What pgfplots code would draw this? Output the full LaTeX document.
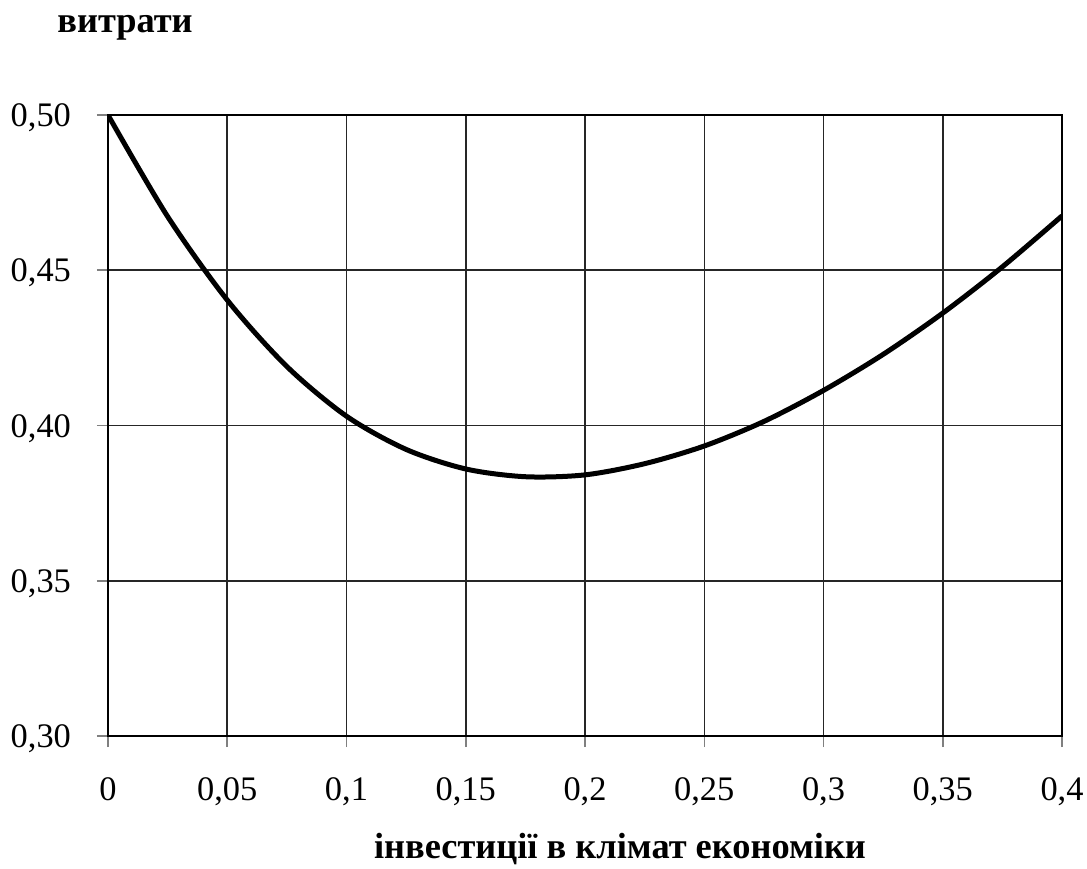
\documentclass[border=0pt]{standalone}
\usepackage{fontspec}
\setmainfont{Liberation Serif}
\usepackage{pgfplots}
\pgfplotsset{compat=1.18}
\begin{document}
\fontsize{17.5pt}{21pt}\selectfont
\begin{tikzpicture}
\useasboundingbox (-54pt,-66pt) rectangle (489.5pt,368pt);
\begin{axis}[
  at={(0,0)}, anchor=south west, scale only axis,
  width=477pt, height=310.5pt,
  xmin=0, xmax=0.4, ymin=0.3, ymax=0.5,
  scaled ticks=false,
  xtick={0,0.05,0.1,0.15,0.2,0.25,0.3,0.35,0.4},
  xticklabels={0,{0,05},{0,1},{0,15},{0,2},{0,25},{0,3},{0,35},{0,4}},
  ytick={0.3,0.35,0.4,0.45,0.5},
  yticklabels={{0,30},{0,35},{0,40},{0,45},{0,50}},
  grid=major,
  major grid style={black!85, line width=0.75pt},
  axis line style={black, line width=1pt},
  tick align=outside, major tick length=5.5pt,
  tick style={gray, line width=0.75pt},
  xtick pos=bottom, ytick pos=left,
  tick label style={font=\fontsize{17.2pt}{21pt}\selectfont},
  xticklabel style={anchor=base, yshift=-26.5pt},
  yticklabel style={anchor=base east, yshift=-5.75pt, xshift=-7pt},
]
\addplot[black, line width=2.5pt, smooth] coordinates {
(0,0.5000) (0.025,0.4673) (0.05,0.4404) (0.075,0.4190) (0.1,0.4030)
(0.125,0.3923) (0.15,0.3860) (0.175,0.3835) (0.2,0.3841) (0.225,0.3877)
(0.25,0.3934) (0.275,0.4013) (0.3,0.4113) (0.325,0.4229) (0.35,0.4362)
(0.375,0.4511) (0.4,0.4675)
};
\end{axis}
\node[anchor=base west, inner sep=0pt, font=\fontsize{18.2pt}{22pt}\selectfont\bfseries] at (-25.5pt,351.5pt) {витрати};
\node[anchor=base, inner sep=0pt, font=\fontsize{18.2pt}{22pt}\selectfont\bfseries] at (256pt,-61pt) {інвестиції в клімат економіки};
\end{tikzpicture}
\end{document}
